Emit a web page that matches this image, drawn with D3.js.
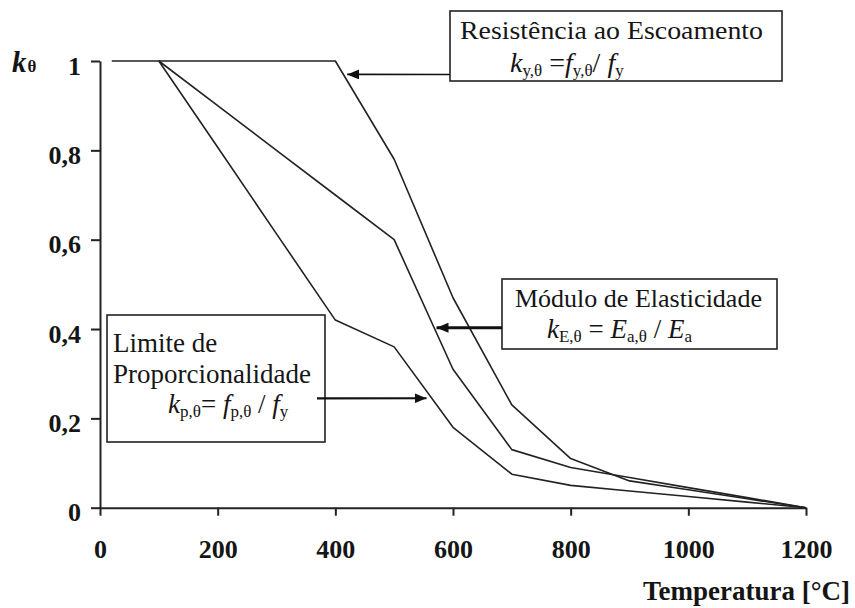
<!DOCTYPE html>
<html>
<head>
<meta charset="utf-8">
<script src="https://cdn.jsdelivr.net/npm/d3@7"></script>
<style>
  html, body { margin: 0; padding: 0; background: #fff; }
  svg { display: block; }
  text { font-family: "Liberation Serif", "Times New Roman", serif; fill: #151515; }
</style>
</head>
<body>
<svg id="chart" width="855" height="608"></svg>
<script>
// Reduction factors of steel at elevated temperature
const tempYield = [20, 100, 200, 300, 400, 500, 600, 700, 800, 900, 1000, 1100, 1200];
const kYield    = [1, 1, 1, 1, 1, 0.78, 0.47, 0.23, 0.11, 0.06, 0.04, 0.02, 0];

const tempElastic = [100, 200, 300, 400, 500, 600, 700, 800, 900, 1000, 1100, 1200];
const kElastic    = [1, 0.9, 0.8, 0.7, 0.6, 0.31, 0.13, 0.09, 0.0675, 0.045, 0.0225, 0];

const tempProp = [100, 200, 300, 400, 500, 600, 700, 800, 900, 1000, 1100, 1200];
const kProp    = [1, 0.807, 0.613, 0.42, 0.36, 0.18, 0.075, 0.05, 0.0375, 0.025, 0.0125, 0];

const xTicks = [0, 200, 400, 600, 800, 1000, 1200];
const xTickLabels = ["0", "200", "400", "600", "800", "1000", "1200"];
const yTicks = [0, 0.2, 0.4, 0.6, 0.8, 1];
const yTickLabels = ["0", "0,2", "0,4", "0,6", "0,8", "1"];

const svg = d3.select("#chart");
const x = d3.scaleLinear().domain([0, 1200]).range([100, 806]);
const y = d3.scaleLinear().domain([0, 1]).range([507.7, 61]);
const ink = "#222";

// Axes
const gx = svg.append("g").attr("transform", `translate(0,${y(0)})`)
  .call(d3.axisBottom(x).tickValues(xTicks).tickSize(8).tickSizeOuter(0)
        .tickFormat((d, i) => xTickLabels[i]));
const gy = svg.append("g").attr("transform", `translate(${x(0)},0)`)
  .call(d3.axisLeft(y).tickValues(yTicks).tickSize(9).tickSizeOuter(0)
        .tickFormat((d, i) => yTickLabels[i]));

[gx, gy].forEach(g => {
  g.select(".domain").attr("stroke", ink).attr("stroke-width", 2);
  g.selectAll(".tick line").attr("stroke", ink).attr("stroke-width", 2);
  g.selectAll(".tick text")
    .attr("fill", "#151515")
    .style("font-family", '"Liberation Serif", serif')
    .style("font-weight", "bold")
    .style("font-size", "26px");
});
gx.selectAll(".tick text").attr("y", 0).attr("dy", 0).attr("transform", "translate(0,50)");
gy.selectAll(".tick text").attr("x", -19).attr("dy", 0).attr("transform", "translate(0,13)");

// Axis titles
const kTheta = svg.append("text").attr("x", 12).attr("y", 72)
  .style("font-weight", "bold");
kTheta.append("tspan").text("k").style("font-style", "italic").style("font-size", "29px");
kTheta.append("tspan").text("θ").style("font-size", "17px").attr("dx", 1);

svg.append("text").attr("x", 850).attr("y", 600).attr("text-anchor", "end")
  .style("font-weight", "bold").style("font-size", "27px")
  .text("Temperatura [°C]");

// Curves
const line = d3.line().x(d => x(d[0])).y(d => y(d[1]));
[[tempYield, kYield], [tempElastic, kElastic], [tempProp, kProp]].forEach(([t, k]) => {
  svg.append("path")
    .datum(t.map((v, i) => [v, k[i]]))
    .attr("d", line)
    .attr("fill", "none")
    .attr("stroke", ink)
    .attr("stroke-width", 1.6)
    .attr("stroke-linejoin", "round");
});

// Arrow markers
const defs = svg.append("defs");
defs.append("marker").attr("id", "head")
  .attr("viewBox", "0 0 12 10").attr("refX", 12).attr("refY", 5)
  .attr("markerWidth", 12).attr("markerHeight", 10)
  .attr("markerUnits", "userSpaceOnUse").attr("orient", "auto")
  .append("path").attr("d", "M0,0 L12,5 L0,10 Z").attr("fill", "#111");

// Writes a formula made of runs; sub runs are shifted down and smaller
function formula(xp, yp, runs, size) {
  const t = svg.append("text").attr("x", xp).attr("y", yp).style("font-size", size + "px");
  let down = false;
  runs.forEach(r => {
    const s = t.append("tspan").text(r.t);
    if (r.i) s.style("font-style", "italic");
    if (r.sub) {
      s.style("font-size", Math.round(size * 0.62) + "px").attr("dy", down ? 0 : 4);
      down = true;
    } else {
      s.attr("dy", down ? -4 : 0);
      down = false;
    }
  });
  return t;
}

// Annotation boxes with arrows pointing at each curve
const boxes = [
  { x0: 450, y0: 11, x1: 782, y1: 81, from: [450, 74.5], to: [420, 0.97], w: 1.6 },
  { x0: 502, y0: 279, x1: 777, y1: 349, from: [502, 327.7], to: [572, 0.403], w: 3 },
  { x0: 107, y0: 315, x1: 325, y1: 442, from: [317, 398.3], to: [555, 0.245], w: 2.2 }
];
boxes.forEach(b => {
  svg.append("rect").attr("x", b.x0).attr("y", b.y0)
    .attr("width", b.x1 - b.x0).attr("height", b.y1 - b.y0)
    .attr("fill", "#fff").attr("stroke", ink).attr("stroke-width", 1.6);
  svg.append("line")
    .attr("x1", b.from[0]).attr("y1", b.from[1])
    .attr("x2", x(b.to[0])).attr("y2", y(b.to[1]))
    .attr("stroke", "#111").attr("stroke-width", b.w)
    .attr("marker-end", "url(#head)");
});

// Box texts
svg.append("text").attr("x", 460).attr("y", 39).style("font-size", "26px")
  .attr("textLength", 303).attr("lengthAdjust", "spacingAndGlyphs")
  .text("Resistência  ao Escoamento");
formula(510, 72, [
  { t: "k", i: true }, { t: "y,θ", sub: true }, { t: " =" }, { t: "f", i: true },
  { t: "y,θ", sub: true }, { t: "/ " }, { t: "f", i: true }, { t: "y", sub: true }
], 28);

svg.append("text").attr("x", 515).attr("y", 307).style("font-size", "26px")
  .text("Módulo de Elasticidade");
formula(547, 338, [
  { t: "k", i: true }, { t: "E,θ", sub: true }, { t: " = " }, { t: "E", i: true },
  { t: "a,θ", sub: true }, { t: " / " }, { t: "E", i: true }, { t: "a", sub: true }
], 27);

svg.append("text").attr("x", 113).attr("y", 352).style("font-size", "27px").text("Limite de");
svg.append("text").attr("x", 113).attr("y", 383).style("font-size", "27px").text("Proporcionalidade");
formula(168, 413, [
  { t: "k", i: true }, { t: "p,θ", sub: true }, { t: "= " }, { t: "f", i: true },
  { t: "p,θ", sub: true }, { t: " / " }, { t: "f", i: true }, { t: "y", sub: true }
], 27);
</script>
</body>
</html>
